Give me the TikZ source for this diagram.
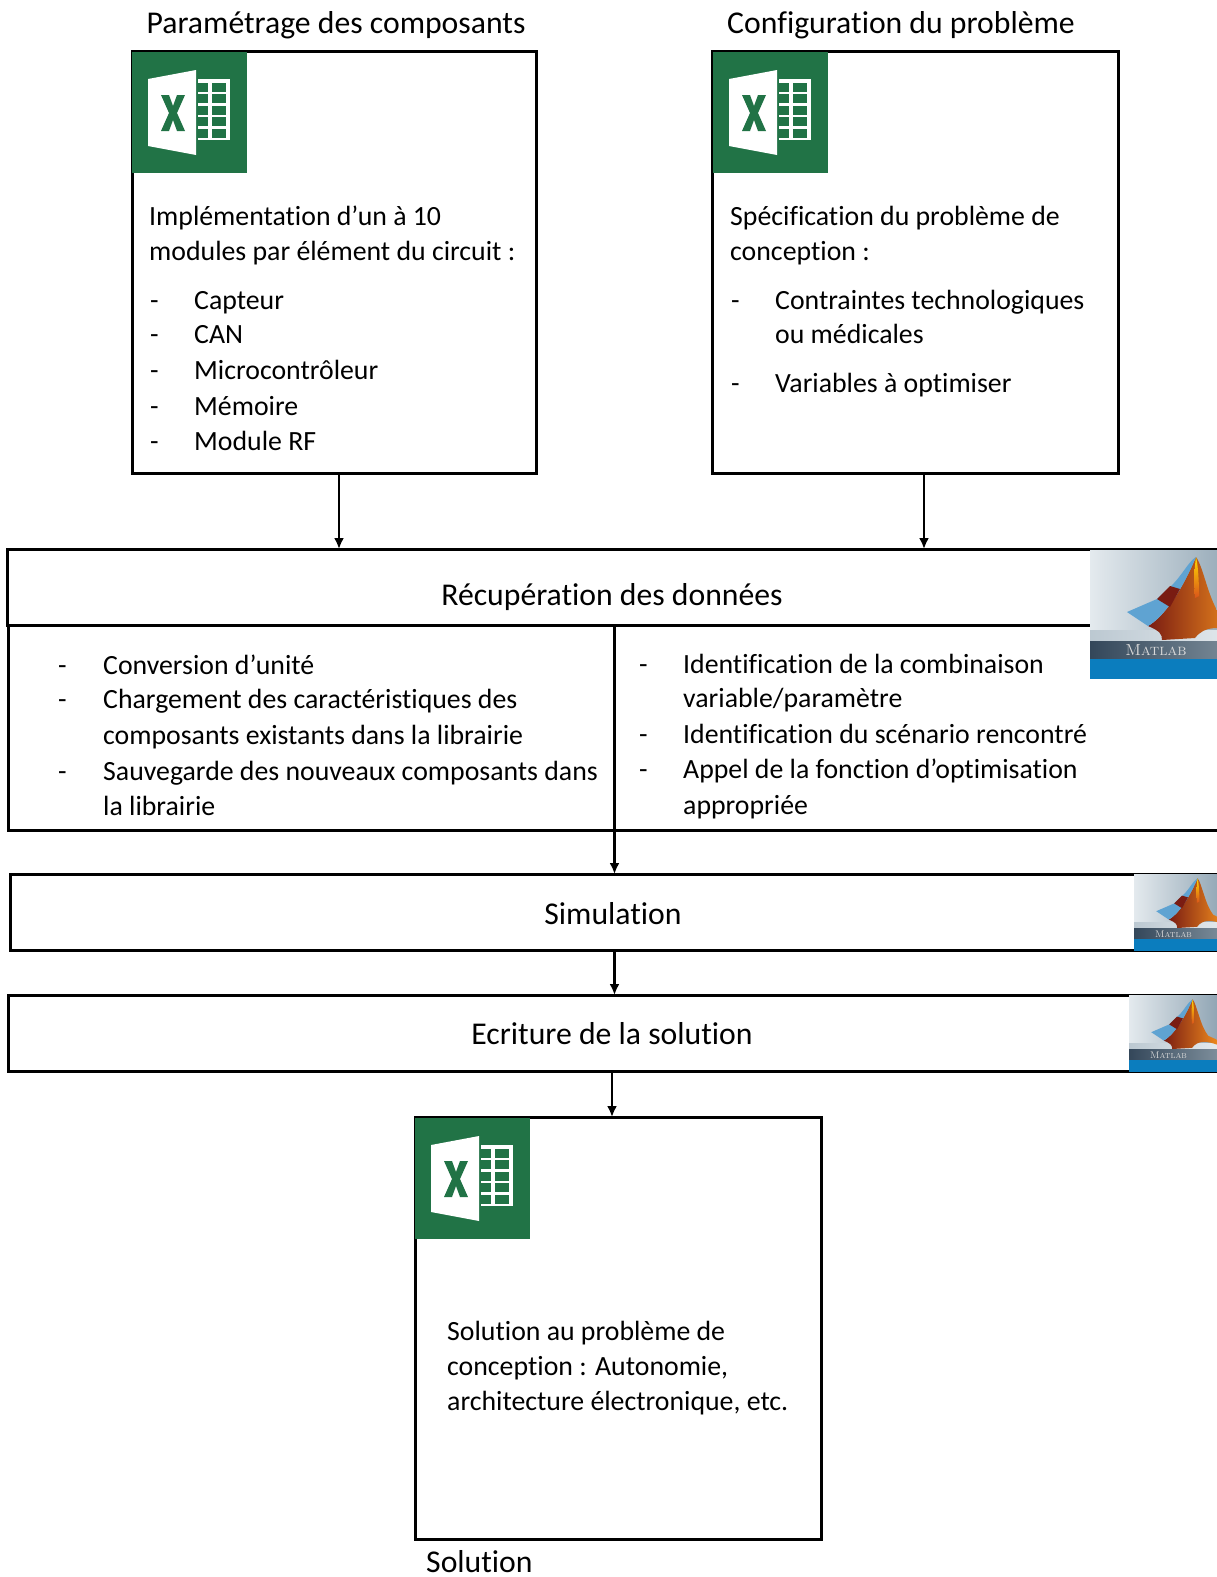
\documentclass[tikz,border=0pt]{standalone}
\usepackage{fontspec}
\setmainfont[Ligatures=NoCommon]{Carlito}
\usetikzlibrary{arrows.meta}

\definecolor{xlgreen}{HTML}{217346}
\definecolor{mlband}{HTML}{34475A}
\definecolor{mlbandb}{HTML}{7E8F9C}
\definecolor{mlblue}{HTML}{0B7DBE}
\definecolor{mlwing}{HTML}{5FA3D2}
\definecolor{mlfondA}{HTML}{E4EAEE}
\definecolor{mlfondB}{HTML}{8FA4B3}
\definecolor{mlrouge}{HTML}{7A1C12}
\definecolor{mlorange}{HTML}{D9541A}
\definecolor{mlclair}{HTML}{F08C1E}

\tikzset{
    boite/.style={draw,line width=3pt,anchor=north west,inner sep=0pt,outer sep=0pt},
    texte/.style={anchor=base west,inner sep=0pt,yshift=1pt,font=\fontsize{27.8}{27.8}\selectfont},
    titre/.style={anchor=base,inner sep=0pt,font=\fontsize{31.7}{31.7}\selectfont},
    fleche/.style={-{Latex[length=11pt,width=10pt]},line width=2.4pt},
    excel/.pic={
        \fill[xlgreen] (0,0) rectangle (115,121);
        \fill[white] (16,27) -- (64,18) -- (64,103) -- (16,94) -- cycle;
        \fill[xlgreen] (29,43) -- (37,43) -- (41,54) -- (45,43) -- (53,43) -- (45,61)
            -- (53,79) -- (45,79) -- (41,68) -- (37,79) -- (29,79) -- (37,61) -- cycle;
        \fill[white] (66,27) rectangle (98,88);
        \foreach \ligne in {0,...,4} {
            \fill[xlgreen] (66,31+11.4*\ligne) rectangle (76,40+11.4*\ligne);
            \fill[xlgreen] (80,31+11.4*\ligne) rectangle (94,40+11.4*\ligne);
        }
    },
    matlab/.pic={
        \shade[left color=mlfondA,right color=mlfondB] (0,0) rectangle (150,91);
        \shade[left color=mlfondB!60!white,right color=mlfondA] (0,80) rectangle (150,91);
        \shade[left color=mlband,right color=mlbandb] (0,91) rectangle (150,109);
        \fill[mlblue] (0,109) rectangle (150,129);
        \node[transform shape,inner sep=0pt,white!85!black,font=\fontfamily{lmr}\fontsize{16}{16}\selectfont\scshape] (logo) at (66,100) {Matlab};
        \shade[left color=mlrouge,middle color=mlorange,right color=mlclair]
            (106,7) .. controls (114,18) and (118,50) .. (132,68)
            -- (150,76) -- (150,84) .. controls (130,76) and (115,75) .. (105,88)
            -- (72,90) .. controls (72,84) and (70,81) .. (58,76)
            .. controls (72,68) and (90,45) .. cycle;
        \shade[top color=yellow!70!orange,bottom color=mlorange] (106,7)
            .. controls (104,20) and (104,35) .. (105,48)
            -- (109,46) .. controls (109,30) and (108,15) .. cycle;
        \fill[mlwing] (106,7) .. controls (98,12) and (92,26) .. (80,37)
            -- (67,49) -- (37,62) -- (58,76) .. controls (72,68) and (90,45) .. cycle;
        \fill[mlrouge] (67,49) -- (80,36) -- (90,39) -- (80,57) -- cycle;
    }
}

\begin{document}
\begin{tikzpicture}[x=1pt,y=-1pt]

\clip (0,0) rectangle (1217,1577);
\fill[white] (0,0) rectangle (1217,1577);

\node[titre] (t1) at (336,33) {Paramétrage des composants};
\node[titre] (t2) at (901,33) {Configuration du problème};

\node[boite,minimum width=404pt,minimum height=422pt] (param) at (132,51) {};
\node[boite,minimum width=406pt,minimum height=422pt] (config) at (712,51) {};
\node[boite,minimum width=1240pt,minimum height=76pt] (recup) at (7,549) {};
\node[boite,minimum width=1240pt,minimum height=205pt] (liste) at (8,625) {};
\node[boite,minimum width=1240pt,minimum height=76pt] (simu) at (10,874) {};
\node[boite,minimum width=1240pt,minimum height=76pt] (ecrit) at (8,995) {};
\node[boite,minimum width=406pt,minimum height=422pt] (sol) at (415,1117) {};

\pic at (132,52) {excel};
\pic at (713,52) {excel};
\pic at (415,1118) {excel};

\pic at (1090,550) {matlab};
\pic[scale=0.6] at (1134,874) {matlab};
\pic[scale=0.6] at (1129,995) {matlab};

% bloc parametrage
\node[texte] (p1) at (149,226) {Implémentation d’un à 10};
\node[texte] (p2) at (149,261) {modules par élément du circuit :};
\foreach \i/\yy/\mot in {1/310/Capteur,2/344/CAN,3/380/Microcontrôleur,4/416/Mémoire,5/451/Module RF} {
    \node[texte] (pt\i) at (150,\yy) {-};
    \node[texte] (pm\i) at (194,\yy) {\mot};
}

% bloc configuration
\node[texte] (c1) at (730,226) {Spécification du problème de};
\node[texte] (c2) at (730,261) {conception :};
\node[texte] (ct1) at (731,310) {-};
\node[texte] (cm1) at (775,310) {Contraintes technologiques};
\node[texte] (cm2) at (775,344) {ou médicales};
\node[texte] (ct2) at (731,393) {-};
\node[texte] (cm3) at (775,393) {Variables à optimiser};

\node[titre] (r) at (612,605) {Récupération des données};

% colonne gauche
\node[texte] (gt1) at (58,675) {-};
\node[texte] (g1) at (103,675) {Conversion d’unité};
\node[texte] (gt2) at (58,709) {-};
\node[texte] (g2) at (103,709) {Chargement des caractéristiques des};
\node[texte] (g3) at (103,745) {composants existants dans la librairie};
\node[texte] (gt3) at (58,781) {-};
\node[texte] (g4) at (103,781) {Sauvegarde des nouveaux composants dans};
\node[texte] (g5) at (103,816) {la librairie};

% colonne droite
\node[texte] (dt1) at (639,674) {-};
\node[texte] (d1) at (683,674) {Identification de la combinaison};
\node[texte] (d2) at (683,708) {variable/paramètre};
\node[texte] (dt2) at (639,744) {-};
\node[texte] (d3) at (683,744) {Identification du scénario rencontré};
\node[texte] (dt3) at (639,779) {-};
\node[texte] (d4) at (683,779) {Appel de la fonction d’optimisation};
\node[texte] (d5) at (683,815) {appropriée};

\node[titre] (s) at (613,924) {Simulation};
\node[titre] (e) at (612,1044) {Ecriture de la solution};

\node[texte] (so1) at (447,1341) {Solution au problème de};
\node[texte] (so2) at (447,1376) {conception : Autonomie,};
\node[texte] (so3) at (447,1411) {architecture électronique, etc.};
\node[titre,anchor=base west] (so4) at (426,1572) {Solution};

\coordinate (haut1) at (param.south -| 339,0);
\coordinate (bas1) at (recup.north -| 339,0);
\coordinate (haut2) at (config.south -| 924,0);
\coordinate (bas2) at (recup.north -| 924,0);
\coordinate (milieu) at (liste.north -| 614.5,0);
\coordinate (mbas) at (simu.north -| 614.5,0);
\coordinate (shaut) at (simu.south -| 614.5,0);
\coordinate (sbas) at (ecrit.north -| 614.5,0);
\coordinate (ehaut) at (ecrit.south -| 612,0);
\coordinate (ebas) at (sol.north -| 612,0);

\draw[fleche] (haut1) -- (bas1);
\draw[fleche] (haut2) -- (bas2);
\draw[fleche] (milieu) -- (mbas);
\draw[fleche] (shaut) -- (sbas);
\draw[fleche] (ehaut) -- (ebas);

\end{tikzpicture}
\end{document}
